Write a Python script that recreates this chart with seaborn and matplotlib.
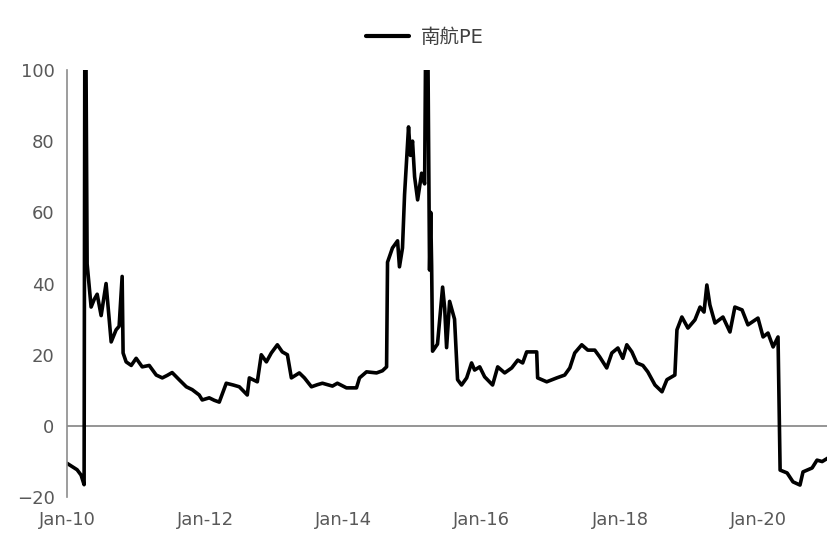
import matplotlib
matplotlib.use("Agg")
import matplotlib.pyplot as plt
import matplotlib.dates as mdates
import pandas as pd
import seaborn as sns

# China Southern Airlines trailing P/E, sampled dates and values
dates = [
    "2010-01-01", "2010-01-22", "2010-02-23", "2010-03-16", "2010-04-01",
    "2010-04-06", "2010-04-17", "2010-05-08", "2010-05-24", "2010-06-09",
    "2010-06-30", "2010-07-26", "2010-08-22", "2010-09-17", "2010-10-03",
    "2010-10-19", "2010-10-24", "2010-11-09", "2010-12-06", "2011-01-01",
    "2011-02-02", "2011-03-11", "2011-04-17", "2011-05-19", "2011-06-14",
    "2011-07-10", "2011-08-16", "2011-09-23", "2011-10-24", "2011-11-30",
    "2011-12-16", "2012-01-22", "2012-02-18", "2012-03-15", "2012-04-21",
    "2012-05-28", "2012-06-29", "2012-08-10", "2012-08-21", "2012-10-02",
    "2012-10-23", "2012-11-19", "2012-12-15", "2013-01-16", "2013-02-11",
    "2013-03-10", "2013-03-31", "2013-05-12", "2013-06-08", "2013-07-15",
    "2013-08-16", "2013-09-11", "2013-11-03", "2013-11-29", "2014-01-16",
    "2014-03-10", "2014-03-26", "2014-05-02", "2014-06-24", "2014-07-25",
    "2014-08-16", "2014-08-21", "2014-09-16", "2014-10-13", "2014-10-23",
    "2014-11-08", "2014-11-19", "2014-12-10", "2014-12-20", "2014-12-31",
    "2015-01-11", "2015-01-27", "2015-02-17", "2015-03-05", "2015-03-16",
    "2015-03-31", "2015-04-06", "2015-04-11", "2015-04-16", "2015-05-12",
    "2015-06-08", "2015-06-19", "2015-06-29", "2015-07-15", "2015-08-10",
    "2015-08-26", "2015-09-16", "2015-10-13", "2015-11-08", "2015-11-24",
    "2015-12-21", "2016-01-16", "2016-02-27", "2016-03-25", "2016-05-01",
    "2016-06-07", "2016-07-09", "2016-08-04", "2016-08-25", "2016-10-17",
    "2016-10-22", "2016-12-09", "2017-01-31", "2017-03-14", "2017-04-10",
    "2017-05-06", "2017-06-12", "2017-07-14", "2017-08-20", "2017-09-15",
    "2017-10-22", "2017-11-18", "2017-12-20", "2018-01-15", "2018-02-05",
    "2018-03-04", "2018-03-30", "2018-05-01", "2018-05-27", "2018-07-04",
    "2018-08-10", "2018-09-05", "2018-10-17", "2018-10-28", "2018-11-23",
    "2018-12-25", "2019-01-31", "2019-02-27", "2019-03-20", "2019-04-04",
    "2019-04-20", "2019-05-17", "2019-06-28", "2019-08-04", "2019-08-30",
    "2019-10-07", "2019-11-07", "2019-12-30", "2020-01-26", "2020-02-21",
    "2020-03-19", "2020-04-14", "2020-04-25", "2020-06-01", "2020-07-02",
    "2020-08-08", "2020-08-24", "2020-10-11", "2020-11-06", "2020-12-03",
    "2021-01-03",
]
pe_values = [
    -10.5, -11.2, -12.3, -13.8, -16.5,
    150.0, 45.5, 33.4, 35.5, 37.0,
    31.0, 40.0, 23.6, 27.0, 28.0,
    42.0, 20.5, 18.0, 17.0, 19.0,
    16.6, 17.0, 14.3, 13.5, 14.2,
    15.0, 13.0, 11.0, 10.2, 8.7,
    7.3, 7.9, 7.2, 6.7, 12.0,
    11.5, 11.0, 8.7, 13.5, 12.4,
    20.0, 18.0, 20.5, 22.8, 20.8,
    20.0, 13.5, 14.9, 13.5, 11.0,
    11.6, 12.0, 11.2, 12.0, 10.7,
    10.7, 13.5, 15.2, 14.9, 15.5,
    16.6, 46.0, 50.0, 52.0, 44.7,
    50.0, 65.0, 84.0, 76.0, 80.0,
    70.0, 63.5, 71.0, 68.0, 150.0,
    43.8, 60.0, 45.0, 21.0, 23.0,
    39.0, 33.0, 22.0, 35.0, 30.0,
    13.0, 11.5, 13.5, 17.7, 15.7,
    16.6, 13.8, 11.5, 16.6, 14.9,
    16.3, 18.5, 17.7, 20.8, 20.8,
    13.5, 12.4, 13.5, 14.3, 16.3,
    20.5, 22.8, 21.3, 21.3, 19.4,
    16.3, 20.5, 21.9, 19.0, 22.8,
    20.8, 17.7, 17.0, 15.2, 11.5,
    9.6, 13.0, 14.3, 27.0, 30.6,
    27.5, 29.8, 33.4, 32.0, 39.6,
    34.0, 28.9, 30.6, 26.4, 33.4,
    32.6, 28.4, 30.3, 25.0, 26.1,
    22.2, 25.0, -12.4, -13.2, -15.7,
    -16.6, -12.9, -11.8, -9.6, -10.0,
    -9.0,
]
series_name = "南航PE"
y_ticks = [-20, 0, 20, 40, 60, 80, 100]
x_tick_years = [2010, 2012, 2014, 2016, 2018, 2020]

df = pd.DataFrame({"date": pd.to_datetime(dates), "pe": pe_values, "series": series_name})

sns.set_style("white")
plt.rcParams["font.family"] = ["DejaVu Sans", "Noto Sans CJK SC"]

fig = plt.figure(figsize=(8.28, 5.34), dpi=100)
ax = fig.add_axes([0.081, 0.069, 0.919, 0.800])

sns.lineplot(data=df, x="date", y="pe", hue="series", palette=["black"],
             linewidth=2.6, ax=ax, legend=True)

ax.axhline(0, color="#8c8c8c", linewidth=1.3, zorder=1)

ax.set_ylim(-20, 100)
ax.set_yticks(y_ticks)
ax.set_xlim(pd.Timestamp("2010-01-01"), pd.Timestamp("2021-01-03"))
ax.set_xticks([pd.Timestamp(f"{y}-01-01") for y in x_tick_years])
ax.xaxis.set_major_formatter(mdates.DateFormatter("%b-%y"))
ax.set_xlabel("")
ax.set_ylabel("")

for side in ["top", "right", "bottom"]:
    ax.spines[side].set_visible(False)
ax.spines["left"].set_color("#8c8c8c")
ax.spines["left"].set_linewidth(1.2)

ax.tick_params(axis="y", which="major", direction="out", length=5, width=1,
               color="#8c8c8c", labelcolor="#595959", labelsize=13, pad=4)
ax.tick_params(axis="x", which="major", length=0, labelcolor="#595959",
               labelsize=13, pad=10)

leg = ax.legend(loc="center", bbox_to_anchor=(0.47, 1.077), frameon=False,
                fontsize=14, handlelength=2.2, handletextpad=0.6)
for t in leg.get_texts():
    t.set_color("#404040")
for h in leg.get_lines():
    h.set_linewidth(3.0)

fig.savefig("out.png", dpi=100)
